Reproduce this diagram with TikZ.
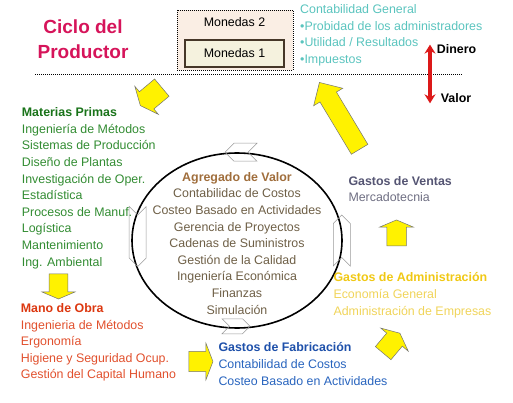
\documentclass[tikz,border=0pt]{standalone}
\usepackage{fontspec}
\setmainfont{Liberation Sans}
\usetikzlibrary{shapes.geometric, shapes.arrows, shapes.symbols, arrows.meta, positioning}

\definecolor{rosa}{RGB}{214,20,90}
\definecolor{turquesa}{RGB}{90,196,190}
\definecolor{verdeosc}{RGB}{25,115,25}
\definecolor{verde}{RGB}{50,140,50}
\definecolor{rojoosc}{RGB}{220,55,15}
\definecolor{rojo}{RGB}{225,80,45}
\definecolor{azulosc}{RGB}{30,80,170}
\definecolor{azul}{RGB}{40,100,190}
\definecolor{amarillo}{RGB}{240,200,20}
\definecolor{amarilloclaro}{RGB}{240,212,90}
\definecolor{pizarra}{RGB}{85,85,115}
\definecolor{pizarraclaro}{RGB}{110,110,130}
\definecolor{cafe}{RGB}{160,110,60}
\definecolor{cafeclaro}{RGB}{110,95,70}
\definecolor{durazno}{RGB}{250,238,228}
\definecolor{crema}{RGB}{245,242,222}
\definecolor{marron}{RGB}{70,55,40}
\definecolor{rojoflecha}{RGB}{220,25,25}

\begin{document}
\begin{tikzpicture}[x=1pt, y=-1pt, >=Stealth]
        % Styles
        \tikzstyle{lista} = [inner sep=0pt, anchor=north west, align=left, font=\fontsize{12.4}{16.6}\selectfont]
        \tikzstyle{flecha} = [single arrow, draw=black!55, fill=yellow, line width=0.5pt, inner xsep=0pt]
        \tikzstyle{chevron} = [signal, draw=black!40, line width=0.5pt, inner sep=0pt]
        \useasboundingbox (0,0) rectangle (513,403);

        % Title and coins
        \node[inner sep=0pt, anchor=north, align=center, text=rosa, font=\fontsize{19}{25.5}\selectfont\bfseries] (titulo) at (83,15.2) {\strut Ciclo del\\Productor};
        \node[draw, dash pattern=on 1pt off 1pt, line width=0.8pt, fill=durazno, minimum width=116pt, minimum height=60pt] (caja) at (235,40) {};
        \node[draw=marron, line width=1.5pt, fill=crema, minimum width=99pt, minimum height=27pt, font=\fontsize{12.4}{16.6}\selectfont] (moneda1) at (234.5,53.5) {Monedas 1};
        \node[font=\fontsize{12.4}{16.6}\selectfont, above=8.7pt of moneda1] (moneda2) {Monedas 2};
        \node[lista, text=turquesa] (contab) at (300,1.9) {\strut Contabilidad General\\•Probidad de los administradores\\•Utilidad / Resultados\\•Impuestos};
        \node[inner sep=0pt, anchor=base west, font=\fontsize{12.4}{16.6}\selectfont\bfseries] (dinero) at (436.7,53.8) {Dinero};
        \node[inner sep=0pt, anchor=base west, font=\fontsize{12.4}{16.6}\selectfont\bfseries] (valor) at (440.7,103) {Valor};
        \draw[dash pattern=on 1pt off 1pt, line width=1pt] (35,75) -- (463,75);

        % Cycle
        \node[draw, ellipse, line width=1.6pt, minimum width=210pt, minimum height=175pt] (ciclo) at (237,240.5) {};
        \node[chevron, signal to=west, signal from=east, minimum width=32pt, minimum height=18pt] (chevn) at ([xshift=4pt]ciclo.north) {};
        \node[chevron, signal to=south, signal from=north, minimum width=17pt, minimum height=43pt] (chevo) at ([xshift=6.5pt, yshift=4pt]ciclo.west) {};
        \node[chevron, signal to=north, signal from=south, minimum width=17pt, minimum height=34pt] (cheve) at ([xshift=-1pt]ciclo.east) {};
        \node[chevron, signal to=east, signal from=west, minimum width=28pt, minimum height=15pt] (chevs) at ([xshift=-1pt, yshift=2.5pt]ciclo.south) {};
        \node[lista, anchor=north, align=center, text=cafeclaro] (agregado) at (237,169.4) {\textcolor{cafe}{\bfseries\strut Agregado de Valor}\\Contabilidac de Costos\\Costeo Basado en Actividades\\Gerencia de Proyectos\\Cadenas de Suministros\\Gestión de la Calidad\\Ingeniería Económica\\Finanzas\\Simulación};

        % Cost groups
        \node[lista, text=verde] (materias) at (21.7,104.9) {\textcolor{verdeosc}{\bfseries\strut Materias Primas}\\Ingeniería de Métodos\\Sistemas de Producción\\Diseño de Plantas\\Investigación de Oper.\\Estadística\\Procesos de Manuf.\\Logística\\Mantenimiento\\Ing. Ambiental};
        \node[lista, text=rojo] (manoobra) at (20.7,300.7) {\textcolor{rojoosc}{\bfseries\strut Mano de Obra}\\Ingenieria de Métodos\\Ergonomía\\Higiene y Seguridad Ocup.\\Gestión del Capital Humano};
        \node[lista, text=azul] (fabricacion) at (218.3,340.1) {\textcolor{azulosc}{\bfseries\strut Gastos de Fabricación}\\Contabilidad de Costos\\Costeo Basado en Actividades};
        \node[lista, text=amarilloclaro] (administracion) at (333.3,270.1) {\textcolor{amarillo}{\bfseries\strut Gastos de Administración}\\Economía General\\Administración de Empresas};
        \node[lista, text=pizarraclaro] (ventas) at (348.3,173.4) {\textcolor{pizarra}{\bfseries\strut Gastos de Ventas}\\Mercadotecnia};

        % Yellow arrows
        \node[flecha, rotate=220, minimum height=28pt, minimum width=36pt, inner ysep=11pt, single arrow tip angle=132] (f1) at (153,95) {};
        \node[flecha, rotate=270, minimum height=25pt, minimum width=33pt, inner ysep=9pt, single arrow tip angle=134] (f2) at (58.5,284.5) {};
        \node[flecha, minimum height=24pt, minimum width=37pt, inner ysep=8.5pt, single arrow tip angle=138] (f3) at (199,361.5) {};
        \node[flecha, rotate=50, minimum height=26pt, minimum width=36pt, inner ysep=9pt, single arrow tip angle=130] (f4) at (390,345) {};
        \node[flecha, rotate=90, minimum height=26pt, minimum width=33pt, inner ysep=9.5pt, single arrow tip angle=134] (f5) at (396.5,235) {};
        \node[flecha, rotate=121, minimum height=78pt, minimum width=34pt, inner ysep=9pt, single arrow tip angle=90] (f6) at (342,120) {};

        % Paths
        \coordinate (tope) at ([xshift=-6.7pt]dinero.north west);
        \coordinate (fondo) at (tope |- valor.south);
        \draw[{Stealth[length=9pt,width=11pt]}-{Stealth[length=9pt,width=11pt]}, line width=3.5pt, rojoflecha] (tope) -- (fondo);
    \end{tikzpicture}
\end{document}
